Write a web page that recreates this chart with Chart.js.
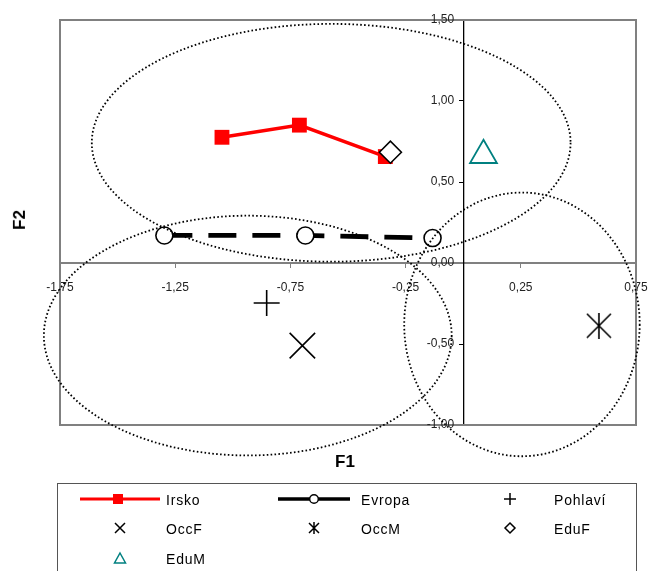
<!DOCTYPE html>
<html>
<head>
<meta charset="utf-8">
<script src="https://cdn.jsdelivr.net/npm/chart.js@4"></script>
<style>
  body { margin: 0; background: #fff; }
  #wrap { position: relative; width: 650px; height: 571px; overflow: hidden; font-family: "Liberation Sans", Arial, sans-serif; }
  #chart { position: absolute; left: 0; top: 0; }
  .axt { position: absolute; font-weight: bold; font-size: 17px; color: #000; line-height: 20px; }
  #legend { position: absolute; left: 57px; top: 483px; width: 580px; height: 110px; border: 1px solid #555; box-sizing: border-box; }
  .lab { position: absolute; font-size: 14px; letter-spacing: 0.8px; line-height: 16px; color: #000; white-space: nowrap; }
  .ico { position: absolute; }
</style>
</head>
<body>
<div id="wrap">
  <canvas id="chart" width="650" height="571"></canvas>
  <div class="axt" style="left:335px; top:452px;">F1</div>
  <div class="axt" style="left:10px; top:210px; transform: rotate(-90deg);">F2</div>
  <div id="legend"></div>
</div>
<script>
// ---- data ----
const xTicks = [-1.75, -1.25, -0.75, -0.25, 0.25, 0.75];
const yTicks = [-1, -0.5, 0, 0.5, 1, 1.5];

const irskoX = [-1.047, -0.711, -0.338];
const irskoY = [0.776, 0.851, 0.657];
const evropaX = [-1.297, -0.685, -0.133];
const evropaY = [0.170, 0.170, 0.154];

const pohlaviXY = [-0.853, -0.247];
const occFXY = [-0.698, -0.510];
const occMXY = [0.589, -0.387];
const eduFXY = [-0.316, 0.684];
const eduMXY = [0.088, 0.665];

// dotted ellipses: centre and radii in axis units
const ellipseCx = [-0.573, -0.935, 0.255];
const ellipseCy = [0.742, -0.448, -0.379];
const ellipseRx = [1.039, 0.885, 0.511];
const ellipseRy = [0.734, 0.740, 0.814];

const FONT = '"Liberation Sans", Arial, sans-serif';
const fmt = v => v.toFixed(2).replace('.', ',');
const toPts = (xs, ys) => xs.map((x, i) => ({x: x, y: ys[i]}));

// asterisk marker (X with vertical stroke)
function asteriskCanvas(size, lw) {
  const c = document.createElement('canvas');
  c.width = size; c.height = size;
  const g = c.getContext('2d');
  g.strokeStyle = '#000';
  g.lineWidth = lw;
  const m = 1;
  g.beginPath();
  g.moveTo(m, m); g.lineTo(size - m, size - m);
  g.moveTo(size - m, m); g.lineTo(m, size - m);
  g.moveTo(size / 2, 0); g.lineTo(size / 2, size);
  g.stroke();
  return c;
}

const ellipsePlugin = {
  id: 'ellipses',
  afterDatasetsDraw(chart) {
    const {ctx, scales: {x, y}} = chart;
    ctx.save();
    ctx.strokeStyle = '#000';
    ctx.lineWidth = 1.8;
    ctx.setLineDash([1.6, 2.3]);
    for (let i = 0; i < ellipseCx.length; i++) {
      const cx = x.getPixelForValue(ellipseCx[i]);
      const cy = y.getPixelForValue(ellipseCy[i]);
      const rx = Math.abs(x.getPixelForValue(ellipseCx[i] + ellipseRx[i]) - cx);
      const ry = Math.abs(y.getPixelForValue(ellipseCy[i] + ellipseRy[i]) - cy);
      ctx.beginPath();
      ctx.ellipse(cx, cy, rx, ry, 0, 0, Math.PI * 2);
      ctx.stroke();
    }
    ctx.restore();
  }
};

// plot frame + y tick labels left of the centred y axis
const framePlugin = {
  id: 'frame',
  beforeDatasetsDraw(chart) {
    const {ctx, chartArea: a, scales: {x, y}} = chart;
    ctx.save();
    ctx.strokeStyle = '#808080';
    ctx.lineWidth = 2;
    ctx.strokeRect(a.left, a.top, a.right - a.left, a.bottom - a.top);
    const x0 = x.getPixelForValue(0);
    ctx.font = '12px ' + FONT;
    ctx.fillStyle = '#222';
    ctx.textAlign = 'right';
    ctx.textBaseline = 'middle';
    yTicks.forEach(v => ctx.fillText(fmt(v), x0 - 9, y.getPixelForValue(v)));
    ctx.restore();
  }
};

const noPad = s => { s.paddingLeft = 0; s.paddingRight = 0; s.paddingTop = 0; s.paddingBottom = 0; };

const datasets = [
  {
    label: 'EduF', data: [{x: eduFXY[0], y: eduFXY[1]}], order: 0,
    pointStyle: 'rectRot', pointRadius: 11, borderColor: '#000', backgroundColor: '#fff', borderWidth: 1.6
  },
  {
    label: 'Irsko', data: toPts(irskoX, irskoY), showLine: true, order: 1,
    borderColor: '#ff0000', backgroundColor: '#ff0000', borderWidth: 3.5,
    pointStyle: 'rect', pointRadius: 10.5, pointBorderWidth: 0
  },
  {
    label: 'Evropa', data: toPts(evropaX, evropaY), showLine: true, order: 2,
    borderColor: '#000', borderWidth: 4.8, borderDash: [28, 16],
    pointStyle: 'circle', pointRadius: 8.5, pointBorderWidth: 1.6, pointBackgroundColor: '#fff', pointBorderColor: '#000'
  },
  {
    label: 'Pohlaví', data: [{x: pohlaviXY[0], y: pohlaviXY[1]}], order: 3,
    pointStyle: 'cross', pointRadius: 13, borderColor: '#000', borderWidth: 1.6
  },
  {
    label: 'OccF', data: [{x: occFXY[0], y: occFXY[1]}], order: 3,
    pointStyle: 'crossRot', pointRadius: 18, borderColor: '#000', borderWidth: 1.6
  },
  {
    label: 'OccM', data: [{x: occMXY[0], y: occMXY[1]}], order: 3,
    pointStyle: asteriskCanvas(26, 1.6), pointRadius: 13
  },
  {
    label: 'EduM', data: [{x: eduMXY[0], y: eduMXY[1]}], order: 3,
    pointStyle: 'triangle', pointRadius: 15.5, borderColor: '#008080', backgroundColor: 'rgba(0,0,0,0)', borderWidth: 1.8
  }
];

new Chart(document.getElementById('chart'), {
  type: 'scatter',
  data: {datasets: datasets},
  plugins: [framePlugin, ellipsePlugin],
  options: {
    responsive: false,
    animation: false,
    layout: {autoPadding: false, padding: {left: 60, top: 20, right: 14, bottom: 146}},
    plugins: {legend: {display: false}, tooltip: {enabled: false}},
    scales: {
      x: {
        type: 'linear', position: {y: 0}, min: -1.75, max: 0.75,
        afterBuildTicks: s => { s.ticks = xTicks.map(v => ({value: v})); },
        afterFit: noPad,
        grid: {drawOnChartArea: false, tickLength: 4, color: '#808080'},
        border: {display: true, color: '#808080', width: 2},
        ticks: {callback: fmt, font: {family: FONT, size: 12}, color: '#222', padding: 13, maxRotation: 0, autoSkip: false}
      },
      y: {
        type: 'linear', position: {x: 0}, min: -1, max: 1.5,
        afterBuildTicks: s => { s.ticks = yTicks.map(v => ({value: v})); },
        afterFit: noPad,
        grid: {drawOnChartArea: false, tickLength: 4, color: '#000'},
        border: {display: true, color: '#000', width: 1.3},
        ticks: {display: false}
      }
    }
  }
});

// ---- legend (boxed, three columns) ----
const legendNames = ['Irsko', 'Evropa', 'Pohlaví', 'OccF', 'OccM', 'EduF', 'EduM'];
const legendIcons = [
  '<svg width="80" height="14"><line x1="0" y1="7" x2="80" y2="7" stroke="#f00" stroke-width="3"/><rect x="33" y="2" width="10" height="10" fill="#f00"/></svg>',
  '<svg width="72" height="14"><line x1="0" y1="7" x2="72" y2="7" stroke="#000" stroke-width="3.5"/><circle cx="36" cy="7" r="4.3" fill="#fff" stroke="#000" stroke-width="1.4"/></svg>',
  '<svg width="14" height="14"><path d="M7 1V13M1 7H13" stroke="#000" stroke-width="1.5"/></svg>',
  '<svg width="14" height="14"><path d="M2 2L12 12M12 2L2 12" stroke="#000" stroke-width="1.5"/></svg>',
  '<svg width="14" height="14"><path d="M2 2L12 12M12 2L2 12M7 1V13" stroke="#000" stroke-width="1.5"/></svg>',
  '<svg width="14" height="14"><path d="M7 2L12 7L7 12L2 7Z" fill="#fff" stroke="#000" stroke-width="1.5"/></svg>',
  '<svg width="14" height="14"><path d="M7 2L12.5 12H1.5Z" fill="none" stroke="#008080" stroke-width="1.5"/></svg>'
];
const colIconX = [62, 256, 452];
const colTextX = [108, 303, 496];
const rowY = [16, 45, 75];
const legend = document.getElementById('legend');
legendNames.forEach((name, i) => {
  const col = i % 3, row = Math.floor(i / 3);
  const ico = document.createElement('div');
  ico.className = 'ico';
  ico.innerHTML = legendIcons[i];
  const w = parseFloat(legendIcons[i].match(/width="([\d.]+)"/)[1]);
  ico.style.left = (colIconX[col] - w / 2) + 'px';
  ico.style.top = (rowY[row] - 8) + 'px';
  legend.appendChild(ico);
  const lab = document.createElement('div');
  lab.className = 'lab';
  lab.textContent = name;
  lab.style.left = colTextX[col] + 'px';
  lab.style.top = (rowY[row] - 8) + 'px';
  legend.appendChild(lab);
});
</script>
</body>
</html>
